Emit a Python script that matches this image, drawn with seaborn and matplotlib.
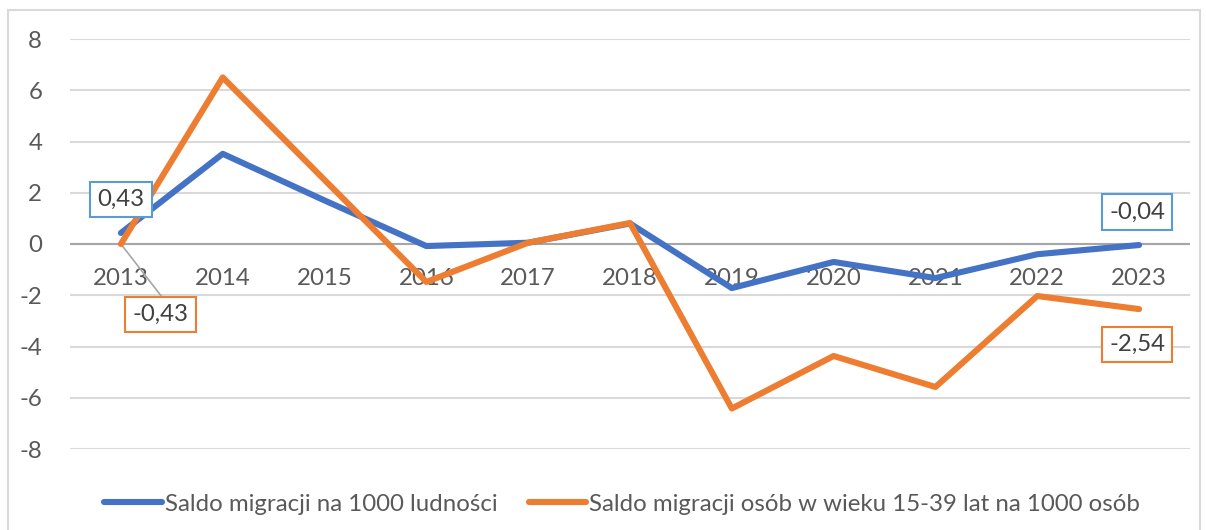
import numpy as np
import pandas as pd
import matplotlib
matplotlib.use("Agg")
import matplotlib.pyplot as plt
from matplotlib.patches import Rectangle
import seaborn as sns

sns.set_style("white")
plt.rcParams['font.family'] = ['Lato', 'DejaVu Sans']
plt.rcParams['font.size'] = 17.3
plt.rcParams['axes.unicode_minus'] = False

# dane
lata = ['2013', '2014', '2015', '2016', '2017', '2018', '2019', '2020', '2021', '2022', '2023']
saldo_ogolem = [0.43, 3.52, 1.70, -0.08, 0.05, 0.80, -1.72, -0.70, -1.33, -0.40, -0.04]
saldo_15_39 = [0.0, 6.50, 2.50, -1.48, 0.05, 0.82, -6.42, -4.37, -5.58, -2.03, -2.54]
seria_1 = 'Saldo migracji na 1000 ludności'
seria_2 = 'Saldo migracji osób w wieku 15-39 lat na 1000 osób'
etykiety_1 = {0: '0,43', 10: '-0,04'}
etykiety_2 = {0: '-0,43', 10: '-2,54'}

NIEBIESKI = '#4472C4'
POMARANCZ = '#ED7D31'
SZARY_TXT = '#595959'


def main():
    df = pd.DataFrame({
        'poz': list(range(len(lata))) * 2,
        'wartosc': saldo_ogolem + saldo_15_39,
        'seria': [seria_1] * len(lata) + [seria_2] * len(lata),
    })

    fig = plt.figure(figsize=(12.06, 5.30), dpi=100)
    ax = fig.add_axes([70 / 1206, 81 / 530, 1120 / 1206, 410 / 530])

    # ramka wokol wykresu
    fig.patches.append(Rectangle((8 / 1206, -0.05), 1192 / 1206, 1.05 - 10 / 530,
                                 transform=fig.transFigure, fill=False,
                                 edgecolor='#d9d9d9', linewidth=1.5))

    sns.lineplot(data=df, x='poz', y='wartosc', hue='seria',
                 palette=[NIEBIESKI, POMARANCZ], linewidth=4.4, ax=ax,
                 legend=True, clip_on=False, zorder=3)

    ax.set_xlim(-0.5, len(lata) - 0.5)
    ax.set_ylim(-8, 8)
    ax.set_yticks(range(-8, 9, 2))
    ax.set_xticks(range(len(lata)))
    ax.set_xticklabels(lata)
    ax.grid(axis='y', color='#d9d9d9', linewidth=1.5)
    ax.axhline(0, color='#a6a6a6', linewidth=1.5, zorder=1)
    for s in ax.spines.values():
        s.set_visible(False)
    ax.spines['bottom'].set_position(('data', 0))
    ax.tick_params(axis='both', length=0, colors=SZARY_TXT, labelsize=17.3)
    ax.tick_params(axis='y', pad=20)
    ax.tick_params(axis='x', pad=17)
    ax.set_xlabel('')
    ax.set_ylabel('')

    # etykiety danych
    box1 = dict(boxstyle='square,pad=0.3', facecolor='white', edgecolor='#5B9BD5', linewidth=1.5)
    box2 = dict(boxstyle='square,pad=0.3', facecolor='white', edgecolor=POMARANCZ, linewidth=1.5)
    ax.text(0, 1.73, etykiety_1[0], ha='center', va='center', color='#404040', bbox=box1, zorder=5)
    ax.text(9.98, 1.25, etykiety_1[10], ha='center', va='center', color='#404040', bbox=box1, zorder=5)
    ax.plot([0, 0.4], [saldo_15_39[0], -2.05], color='#a6a6a6', linewidth=1.2, zorder=2)
    ax.text(0.39, -2.75, etykiety_2[0], ha='center', va='center', color='#404040', bbox=box2, zorder=5)
    ax.text(9.98, -3.92, etykiety_2[10], ha='center', va='center', color='#404040', bbox=box2, zorder=5)

    leg = ax.legend(loc='center', bbox_to_anchor=(0.493, -0.135), ncol=2, frameon=False,
                    handlelength=2.4, handletextpad=0.13, columnspacing=1.3, fontsize=17.3)
    for t in leg.get_texts():
        t.set_color(SZARY_TXT)

    fig.savefig('out.png', dpi=100)


if __name__ == '__main__':
    main()
